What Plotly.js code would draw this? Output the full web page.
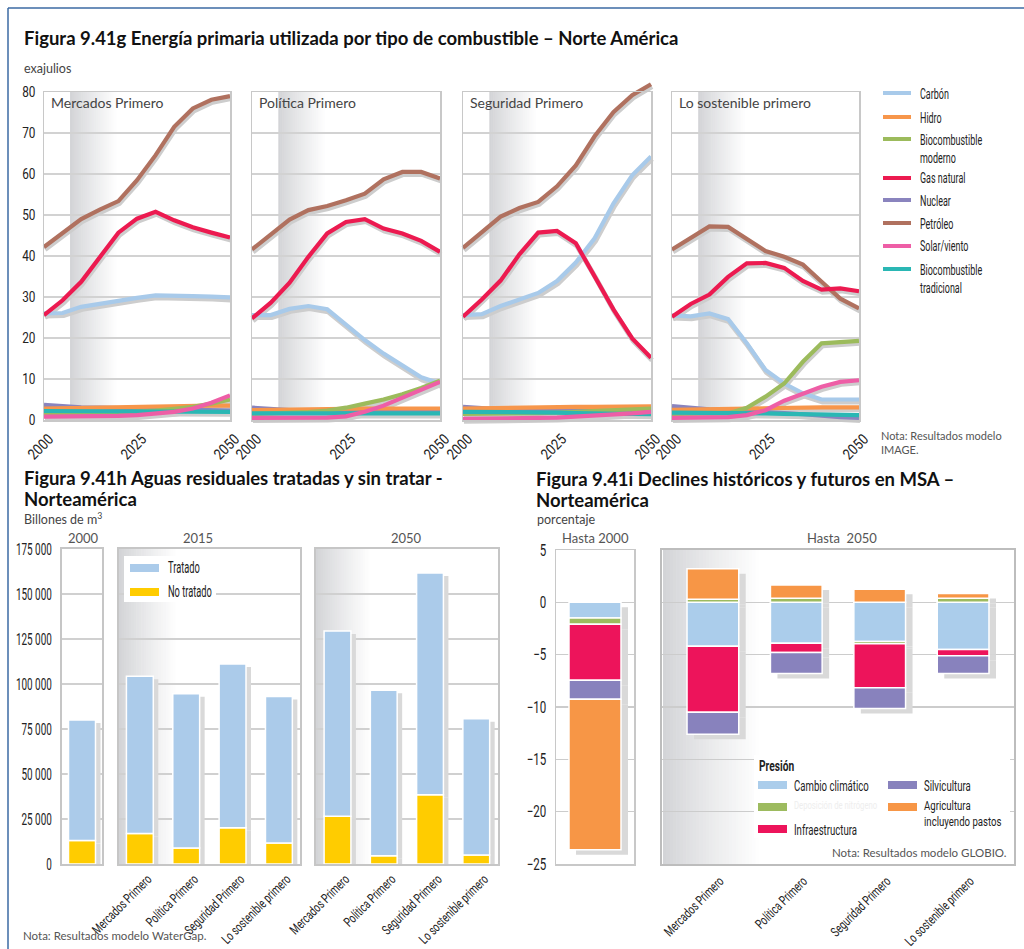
<!DOCTYPE html>
<html><head><meta charset="utf-8">
<script src="https://cdn.plot.ly/plotly-3.0.1.min.js"></script>
<style>html,body{margin:0;padding:0;background:#fff;}#chart{width:1024px;height:949px;}</style>
</head><body><div id="chart"></div>
<script>
// ================= DATA =================
// Figura 9.41g — exajulios, por escenario: [Mercados, Política, Seguridad, Sostenible]
const years = [2000,2005,2010,2015,2020,2025,2030,2035,2040,2045,2050];
const scenarios = ['Mercados Primero','Política Primero','Seguridad Primero','Lo sostenible primero'];
const yearTickVals = [2000,2025,2050];
const yearTickText = ['2000','2025','2050'];
const energyTickVals = [0,10,20,30,40,50,60,70,80];
const energyTickText = ['0','10','20','30','40','50','60','70','80'];

const carbon = [
  [26.0,26.1,27.6,28.4,29.2,29.8,30.4,30.4,30.2,30.1,29.9],
  [25.6,25.6,27.1,27.8,27.0,23.2,19.5,16.2,13.2,10.4,8.9],
  [25.6,25.8,27.8,29.4,31.0,33.9,38.4,44.3,52.8,59.7,64.3],
  [25.5,25.3,26.0,24.6,18.7,12.2,8.9,6.5,5.0,5.0,5.0]];
const hydro = [
  [2.8,2.9,3.0,3.1,3.2,3.3,3.4,3.4,3.5,3.5,3.5],
  [2.4,2.5,2.5,2.6,2.7,2.7,2.8,2.8,2.8,2.8,2.8],
  [2.8,2.9,3.0,3.0,3.1,3.1,3.2,3.2,3.2,3.3,3.3],
  [2.5,2.6,2.7,2.8,2.9,3.0,3.0,3.0,3.1,3.1,3.1]];
const bioModern = [
  [1.5,1.5,1.6,1.7,1.8,2.0,2.3,2.7,3.2,4.0,5.0],
  [1.5,1.6,1.7,1.9,2.3,3.0,4.0,5.0,6.3,7.8,9.6],
  [1.5,1.5,1.6,1.6,1.7,1.8,2.0,2.2,2.4,2.6,2.8],
  [1.5,1.5,1.5,1.6,3.0,5.7,8.9,14.2,18.7,19.0,19.3]];
const naturalGas = [
  [25.6,29.2,33.7,39.8,45.7,49.1,50.8,48.7,47.0,45.7,44.5],
  [24.8,28.6,33.5,39.8,45.5,48.3,49.0,46.7,45.5,43.7,41.0],
  [25.2,29.4,34.0,40.4,45.7,46.1,43.1,35.3,27.0,19.9,15.2],
  [25.2,28.3,30.6,34.9,38.2,38.3,37.1,33.9,31.8,32.1,31.4]];
const nuclear = [
  [3.7,3.3,3.1,3.0,2.9,2.8,2.7,2.6,2.5,2.4,2.3],
  [3.0,2.6,2.4,2.3,2.2,2.2,2.1,2.0,2.0,1.9,1.9],
  [3.2,2.8,2.6,2.5,2.5,2.4,2.3,2.3,2.2,2.2,2.2],
  [3.4,2.9,2.6,2.5,2.3,2.0,1.7,1.4,1.0,0.7,0.5]];
const petroleum = [
  [42.2,45.5,49.0,51.3,53.4,58.5,64.6,71.5,76.0,78.1,79.0],
  [41.6,45.1,48.9,51.2,52.2,53.6,55.2,58.7,60.5,60.5,58.9],
  [42.0,45.7,49.6,51.7,53.2,57.0,62.1,69.2,75.1,79.2,81.9],
  [41.6,44.5,47.2,47.1,44.1,41.2,39.8,37.9,33.7,29.6,27.2]];
const solarWind = [
  [0.8,0.8,0.8,0.9,1.0,1.2,1.5,2.0,2.8,4.2,6.0],
  [0.5,0.5,0.5,0.5,0.6,0.9,2.0,3.5,5.5,7.5,9.3],
  [0.3,0.3,0.3,0.4,0.5,0.6,0.8,1.0,1.3,1.6,2.0],
  [0.5,0.5,0.5,0.7,1.2,2.4,4.7,6.5,8.1,9.3,9.7]];
const bioTraditional = [
  [2.2,2.2,2.2,2.2,2.2,2.1,2.1,2.1,2.0,2.0,2.0],
  [1.6,1.6,1.6,1.6,1.6,1.6,1.6,1.6,1.6,1.6,1.6],
  [2.0,2.0,1.9,1.9,1.8,1.8,1.7,1.6,1.5,1.4,1.4],
  [1.8,1.8,1.8,1.8,1.7,1.6,1.5,1.4,1.3,1.2,1.2]];
const fuelNames = ['Carbón','Hidro','Biocombustible moderno','Gas natural','Nuclear','Petróleo','Solar/viento','Biocombustible tradicional'];
const fuelLegendLabels = ['Carbón','Hidro','Biocombustible<br>moderno','Gas natural','Nuclear','Petróleo','Solar/viento','Biocombustible<br>tradicional'];

// Figura 9.41h — Billones de m3
const wwCats2000 = ['2000'];
const wwCats = ['Mercados Primero','Política Primero','Seguridad Primero','Lo sostenible primero'];
const untreated2000 = [13000];
const treated2000 = [67000];
const untreated2015 = [16900, 8900, 20200, 11700];
const treated2015 = [87400, 85700, 90900, 81400];
const untreated2050 = [26500, 4600, 38500, 5000];
const treated2050 = [102900, 91900, 123200, 75700];
const wwTickVals = [0,25000,50000,75000,100000,125000,150000,175000];
const wwTickText = ['0','25 000','50 000','75 000','100 000','125 000','150 000','175 000'];

// Figura 9.41i — porcentaje
const msaCats2000 = ['Hasta 2000'];
const msaCats2050 = ['Mercados Primero','Política Primero','Seguridad Primero','Lo sostenible primero'];
const msaPressures = ['Cambio climático','Deposición de nitrógeno','Infraestructura','Silvicultura','Agricultura incluyendo pastos'];
const climate2000 = [-1.5], nitrogen2000 = [-0.6], infra2000 = [-5.35], forestry2000 = [-1.8], agri2000 = [-14.4];
const climate2050 = [-4.2,-3.9,-3.75,-4.5];
const nitrogen2050 = [0.3,0.4,-0.2,0.4];
const infra2050 = [-6.3,-0.9,-4.2,-0.6];
const forestry2050 = [-2.1,-2.0,-2.0,-1.7];
const agri2050 = [2.9,1.25,1.25,0.45];
const msaTickVals = [-25,-20,-15,-10,-5,0,5];
const msaTickText = ['−25','−20','−15','−10','−5','0','5'];

// ================= STYLE / LAYOUT =================
const W = 1024, H = 949;
const px = x => x / W, py = y => 1 - y / H;
const LIGHT = 'Lato, sans-serif';
const BOLD = 'Lato, sans-serif';
// narrow text: Roboto, horizontally condensed after drawing (factor in percent)
const cf = (size, pct, color) => ({family:`Cond${pct}, Roboto, sans-serif`, size, color:color||'#222'});
const fuelColors = ['#a8caea','#f7964b','#9cbb5c','#ec1a50','#8a84be','#b0715f','#ee5ea6','#2ab7b4'];
const fuelData = [carbon, hydro, bioModern, naturalGas, nuclear, petroleum, solarWind, bioTraditional];
const drawOrder = [4,1,0,2,7,5,3,6];
const msaColors = ['#abcdeb','#9dbb5f','#ed145b','#8882bd','#f79646'];

const data = [];
const layout = {
  width: W, height: H, margin: {l:0,r:0,t:0,b:0,pad:0},
  paper_bgcolor: '#ffffff', plot_bgcolor: 'rgba(0,0,0,0)',
  showlegend: false, hovermode: false, barmode: 'relative',
  shapes: [], annotations: []
};
const axN = (l,n) => n === 1 ? l + 'axis' : l + 'axis' + n;
const axI = (l,n) => n === 1 ? l : l + n;
function ann(text, x, y, o) {
  layout.annotations.push(Object.assign({text, x:px(x), y:py(y), xref:'paper', yref:'paper', showarrow:false,
    xanchor:'left', yanchor:'middle', align:'left', font:{family:LIGHT, size:13, color:'#444'}}, o || {}));
}
function rect(x0,y0,x1,y1,color,layer){
  layout.shapes.push({type:'rect', xref:'paper', yref:'paper', x0:px(x0), x1:px(x1), y0:py(y1), y1:py(y0),
    fillcolor:color, line:{width:0}, layer:layer||'above'});
}
function hline(x0,x1,y,color,w){
  layout.shapes.push({type:'line', xref:'paper', yref:'paper', x0:px(x0), x1:px(x1), y0:py(y), y1:py(y), line:{color, width:w}, layer:'above'});
}
function gradient(x0,x1,y0,y1,n){
  const c0 = [211,212,215];
  for (let k = 0; k < n; k++) {
    const t = Math.pow(k/(n-1), 0.9);
    const c = c0.map(v => Math.round(v + (255 - v) * t));
    rect(x0 + (x1-x0)*k/n, y0, x0 + (x1-x0)*(k+1)/n + 0.6, y1, `rgb(${c.join(',')})`, 'below');
  }
}

// frame
layout.shapes.push({type:'line', xref:'paper', yref:'paper', x0:px(8), x1:px(8), y0:py(8), y1:py(949), line:{color:'#3b6aa3', width:1.5}, layer:'above'});
layout.shapes.push({type:'line', xref:'paper', yref:'paper', x0:px(8), x1:px(1024), y0:py(8), y1:py(8), line:{color:'#3b6aa3', width:1.5}, layer:'above'});

// ---------- 9.41g ----------
const panelL = [44,252,463,672], panelR = [230,440,651,859];
scenarios.forEach((s, i) => {
  const n = i + 1;
  layout[axN('x',n)] = {domain:[px(panelL[i]), px(panelR[i])], range:[2000,2050], anchor:axI('y',n),
    tickvals:yearTickVals, ticktext:yearTickText, tickangle:-45, tickfont:cf(15, 85),
    showgrid:false, zeroline:false, showline:true, mirror:true, linecolor:'#c8c8c8', linewidth:1.5, ticks:'',
    ticklabelstandoff:3, ticklabelshift:5};
  layout[axN('y',n)] = {domain:[py(420), py(92)], range:[0,80], anchor:axI('x',n),
    tickvals:energyTickVals, ticktext:energyTickText, showgrid:true, gridcolor:'#d2d2d2', gridwidth:1.5,
    zeroline:false, showline:true, mirror:true, linecolor:'#c8c8c8', linewidth:1.5, ticks:'',
    showticklabels:i===0, tickfont:cf(15.5, 76), ticklabelstandoff:4};
  const w = panelR[i] - panelL[i];
  gradient(panelL[i] + w*7/50, panelL[i] + w*20/50, 92, 420, 26);
  ann(s, panelL[i] + 5, 102, {font:{family:LIGHT, size:14, color:'#444'}});
  drawOrder.forEach((f, k) => {
    data.push({type:'scatter', mode:'lines', x:years, y:fuelData[f][i], xaxis:axI('x',n), yaxis:axI('y',n),
      line:{color:'#cdcdcd', width:5}, cliponaxis:false, uid:'sh_1_2.5_g'+i+'_'+k});
  });
  drawOrder.forEach(f => {
    data.push({type:'scatter', mode:'lines', name:fuelNames[f], x:years, y:fuelData[f][i], xaxis:axI('x',n), yaxis:axI('y',n),
      line:{color:fuelColors[f], width:4.2}, cliponaxis:false});
  });
});
ann('<b>Figura 9.41g Energía primaria utilizada por tipo de combustible – Norte América</b>', 22, 38, {font:{family:BOLD, size:18.5, color:'#111'}});
ann('exajulios', 22, 68, {font:{family:LIGHT, size:12.5, color:'#444'}});
const legY = [93,117,139,178,200,223,246,269];
fuelLegendLabels.forEach((lab, f) => {
  hline(883, 911, legY[f], fuelColors[f], 4);
  ann(lab, 918, legY[f] - 9.5, {yanchor:'top', font:cf(14, 64)});
});
ann('Nota: Resultados modelo<br>IMAGE.', 879, 427, {yanchor:'top', font:{family:LIGHT, size:11, color:'#555'}});

// ---------- 9.41h ----------
const whPanels = [
  {xn:5, yb:5, yo:8, L:62, R:102, cats:wwCats2000, un:untreated2000, tr:treated2000, range:[-0.5,0.5], width:0.675, labels:false},
  {xn:6, yb:6, yo:9, L:119, R:300, cats:wwCats, un:untreated2015, tr:treated2015, range:[-0.45,3.455], width:0.58, labels:true},
  {xn:7, yb:7, yo:10, L:316, R:498, cats:wwCats, un:untreated2050, tr:treated2050, range:[-0.465,3.47], width:0.58, labels:true}
];
whPanels.forEach((p, i) => {
  layout[axN('x',p.xn)] = {domain:[px(p.L), px(p.R)], type:'category', range:p.range, anchor:axI('y',p.yb),
    showticklabels:p.labels, tickangle:-45, tickfont:cf(13.5, 70),
    showgrid:false, zeroline:false, showline:true, mirror:true, linecolor:'#c6c6c6', linewidth:2, ticks:'',
    ticklabelstandoff:0, ticklabelshift:8};
  layout[axN('y',p.yb)] = {domain:[py(864), py(549)], range:[0,175000], anchor:axI('x',p.xn),
    tickvals:wwTickVals, ticktext:wwTickText, showgrid:true, gridcolor:'#d0d0d0', gridwidth:1.5, zeroline:false,
    showline:true, mirror:true, linecolor:'#c6c6c6', linewidth:2, ticks:'', showticklabels:i===0,
    tickfont:cf(16, 62), ticklabelstandoff:5};
  layout[axN('y',p.yo)] = {overlaying:axI('y',p.yb), anchor:axI('x',p.xn), range:[0,175000], visible:false, showgrid:false};
  [p.un, p.tr].forEach((vals, k) => {
    data.push({type:'bar', x:p.cats, y:vals, width:p.width, xaxis:axI('x',p.xn), yaxis:axI('y',p.yb),
      marker:{color:'#d9d9d9', line:{width:0}}, uid:'sh_5_3_h'+i+'_'+k});
  });
  data.push({type:'bar', name:'No tratado', x:p.cats, y:p.un, width:p.width, xaxis:axI('x',p.xn), yaxis:axI('y',p.yo),
    marker:{color:'#ffcc00', line:{color:'#ffffff', width:1.5}}});
  data.push({type:'bar', name:'Tratado', x:p.cats, y:p.tr, width:p.width, xaxis:axI('x',p.xn), yaxis:axI('y',p.yo),
    marker:{color:'#abcbea', line:{color:'#ffffff', width:1.5}}});
});
gradient(119, 178, 549, 864, 24);
gradient(316, 372, 549, 864, 24);
ann('<b>Figura 9.41h Aguas residuales tratadas y sin tratar -</b>', 22, 478, {font:{family:BOLD, size:18.5, color:'#111'}});
ann('<b>Norteamérica</b>', 22, 499, {font:{family:BOLD, size:18.5, color:'#111'}});
ann('Billones de m<sup>3</sup>', 22, 518, {font:{family:LIGHT, size:12.5, color:'#444'}});
ann('2000', 83, 538, {xanchor:'center', font:{family:LIGHT, size:13, color:'#555'}});
ann('2015', 198, 538, {xanchor:'center', font:{family:LIGHT, size:13, color:'#555'}});
ann('2050', 406, 538, {xanchor:'center', font:{family:LIGHT, size:13, color:'#555'}});
rect(124, 556, 216, 602, '#ffffff');
rect(130, 564, 159, 572, '#abcbea');
rect(130, 588, 159, 596, '#ffcc00');
ann('Tratado', 166, 567, {font:cf(16, 58)});
ann('No tratado', 166, 591, {font:cf(16, 58)});
ann('Nota: Resultados modelo WaterGap.', 21, 935, {font:{family:LIGHT, size:11.5, color:'#555'}});

// ---------- 9.41i ----------
const msaPanels = [
  {xn:8, yb:11, yo:13, L:556, R:634, cats:msaCats2000, vals:[climate2000,nitrogen2000,infra2000,forestry2000,agri2000], range:[-0.5,0.5], width:0.667, labels:false, lc:'#c8c8c8', lw:1.5},
  {xn:9, yb:12, yo:14, L:662, R:1014, cats:msaCats2050, vals:[climate2050,nitrogen2050,infra2050,forestry2050,agri2050], range:[-0.61,3.61], width:0.62, labels:true, lc:'#bdbdbd', lw:2}
];
msaPanels.forEach((p, i) => {
  layout[axN('x',p.xn)] = {domain:[px(p.L), px(p.R)], type:'category', range:p.range, anchor:axI('y',p.yb),
    showticklabels:p.labels, tickangle:-45, tickfont:cf(13.5, 70),
    showgrid:false, zeroline:false, showline:true, mirror:true, linecolor:p.lc, linewidth:p.lw, ticks:'',
    ticklabelstandoff:2, ticklabelshift:7};
  layout[axN('y',p.yb)] = {domain:[py(864), py(550)], range:[-25,5], anchor:axI('x',p.xn),
    tickvals:msaTickVals, ticktext:msaTickText, showgrid:true, gridcolor:'#cccccc', gridwidth:1.5, zeroline:false,
    showline:true, mirror:true, linecolor:p.lc, linewidth:p.lw, ticks:'', showticklabels:i===0,
    tickfont:cf(16, 72), ticklabelstandoff:5};
  layout[axN('y',p.yo)] = {overlaying:axI('y',p.yb), anchor:axI('x',p.xn), range:[-25,5], visible:false, showgrid:false};
  p.vals.forEach((v, k) => {
    data.push({type:'bar', x:p.cats, y:v, width:p.width, xaxis:axI('x',p.xn), yaxis:axI('y',p.yb),
      marker:{color:'#d9d9d9', line:{width:0}}, uid:'sh_7_5_i'+i+'_'+k});
  });
  p.vals.forEach((v, k) => {
    data.push({type:'bar', name:msaPressures[k], x:p.cats, y:v, width:p.width, xaxis:axI('x',p.xn), yaxis:axI('y',p.yo),
      marker:{color:msaColors[k], line:{color:'#ffffff', width:1.5}}});
  });
});
gradient(663, 762, 550, 864, 30);
ann('<b>Figura 9.41i Declines históricos y futuros en MSA –</b>', 534, 479, {font:{family:BOLD, size:18.5, color:'#111'}});
ann('<b>Norteamérica</b>', 534, 500, {font:{family:BOLD, size:18.5, color:'#111'}});
ann('porcentaje', 535, 519, {font:{family:LIGHT, size:12.5, color:'#444'}});
ann('Hasta 2000', 595, 538, {xanchor:'center', font:{family:LIGHT, size:13, color:'#555'}});
ann('Hasta  2050', 842, 538, {xanchor:'center', font:{family:LIGHT, size:13, color:'#555'}});
rect(754, 755, 1010, 838, '#ffffff');
ann('<b>Presión</b>', 757, 766, {font:cf(15, 68)});
const msaLegPos = [[758,785],[758,807],[758,829],[888,785],[888,807]];
const msaLegLabels = ['Cambio climático','Deposición de nitrógeno','Infraestructura','Silvicultura','Agricultura<br>incluyendo pastos'];
msaLegLabels.forEach((lab, k) => {
  const [x, y] = msaLegPos[k];
  rect(x, y - 4, x + 29, y + 4, msaColors[k]);
  const f = k === 1 ? cf(11, 70, '#eeeeee') : (k === 4 ? cf(12, 80) : cf(15, 64));
  ann(lab, x + 34, y - 10, {yanchor:'top', font:f});
});
ann('Nota: Resultados modelo GLOBIO.', 1009, 852, {xanchor:'right', font:{family:LIGHT, size:11.5, color:'#555'}});

// ================= PLOT =================
const gd = document.getElementById('chart');
function condense() {
  gd.querySelectorAll('text').forEach(t => {
    const st = t.getAttribute('style') || '';
    const mm = st.match(/Cond(\d+)/);
    if (!mm) return;
    const k = +mm[1] / 100;
    const lines = t.querySelectorAll('tspan.line');
    const targets = lines.length ? Array.from(lines) : [t];
    let oldMax = 0, newMax = 0;
    targets.forEach(el => {
      const L = el.getComputedTextLength();
      if (L > 0) {
        el.setAttribute('textLength', (L * k).toFixed(2));
        el.setAttribute('lengthAdjust', 'spacingAndGlyphs');
        oldMax = Math.max(oldMax, L); newMax = Math.max(newMax, L * k);
      }
    });
    const bg = t.parentNode && t.parentNode.querySelector ? t.parentNode.querySelector('rect.bg') : null;
    if (bg && oldMax > 0) {
      const w0 = +bg.getAttribute('width');
      if (w0 > 0) bg.setAttribute('width', Math.max(1, w0 - (oldMax - newMax)).toFixed(2));
    }
  });
}
Plotly.newPlot(gd, data, layout, {staticPlot:true, displayModeBar:false}).then(() => {
  gd.querySelectorAll('g.trace').forEach(g => {
    const cd = g.__data__;
    const tr = cd && cd[0] && cd[0].trace;
    if (tr && typeof tr.uid === 'string' && tr.uid.indexOf('sh_') === 0) {
      const parts = tr.uid.split('_');
      g.setAttribute('transform', `translate(${parts[1]},${parts[2]})`);
    }
  });
  ['xy','x2y2','x3y3','x4y4'].forEach(id => {
    gd.querySelectorAll(`.subplot.${id}, .subplot.${id} [clip-path]`).forEach(el => el.removeAttribute('clip-path'));
  });
  condense();
});
</script>
</body></html>
